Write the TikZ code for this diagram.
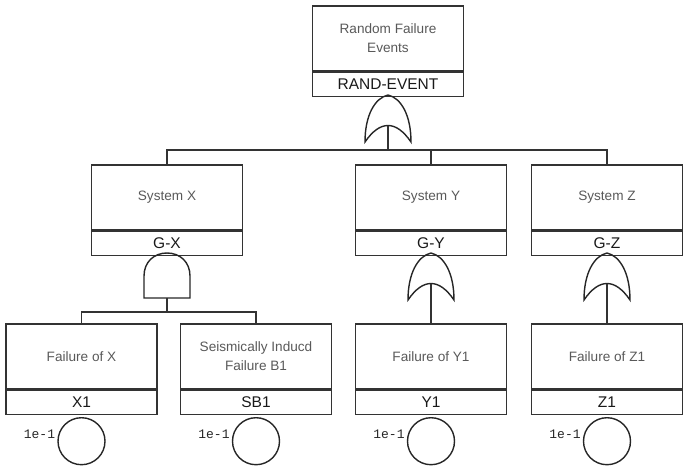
\documentclass[tikz,border=0pt]{standalone}
\usepackage{fontspec}
\setmainfont{Liberation Sans}
\newfontfamily\monof{Liberation Mono}
\usetikzlibrary{calc}
\begin{document}
\begin{tikzpicture}[x=1pt,y=-1pt,
  ln/.style={draw=black!80,line width=1.5pt},
  desc/.style={ln, minimum width=151pt, minimum height=65pt, inner sep=0pt, align=center,
    font=\fontsize{13.6}{18.5}\selectfont, text=black!65, anchor=north},
  ident/.style={ln, minimum width=151pt, minimum height=24pt, inner sep=0pt,
    font=\fontsize{15.5}{18}\selectfont, text=black!90, anchor=north},
  prob/.style={font=\monof\fontsize{13}{13}\selectfont, text=black!85, inner sep=0pt, anchor=east},
  basic/.style={draw=black!85, line width=1.4pt, circle, minimum size=47pt, inner sep=0pt, anchor=north},
  wire/.style={draw=black!80, line width=1.4pt},
  gate/.style={draw=black!85, line width=1.4pt},
  orgate/.pic={
    \draw[gate] (-23,0) .. controls (-23,-27) and (-13,-44) .. (0,-47)
      .. controls (13,-44) and (23,-27) .. (23,0)
      .. controls (8,-22) and (-8,-22) .. cycle;
    \coordinate (-in) at (0,-16.5);
  },
  andgate/.pic={
    \draw[gate] (-23,0) -- (-23,-22) .. controls (-23,-36) and (-13,-45) .. (0,-45)
      .. controls (13,-45) and (23,-36) .. (23,-22) -- (23,0) -- cycle;
    \coordinate (-out) at (0,0);
  }
]
\useasboundingbox (0,0) rectangle (683,469);

% top event
\node[desc] (dT) at (388,5) {Random Failure\\Events};
\node[ident] (iT) at (dT.south) {RAND-EVENT};
\pic (gT) at (388,142) {orgate};

% middle row
\node[desc] (dX) at (167,164) {System X};
\node[ident] (iX) at (dX.south) {G-X};
\node[desc] (dY) at (431,164) {System Y};
\node[ident] (iY) at (dY.south) {G-Y};
\node[desc] (dZ) at (607,164) {System Z};
\node[ident] (iZ) at (dZ.south) {G-Z};

\pic (gX) at (167,298) {andgate};
\pic (gY) at (431,300) {orgate};
\pic (gZ) at (607,300) {orgate};

% bottom row
\node[desc] (d1) at (81.5,323) {Failure of X};
\node[ident] (i1) at (d1.south) {X1};
\node[desc] (d2) at (256,323) {Seismically Inducd\\Failure B1};
\node[ident] (i2) at (d2.south) {SB1};
\node[desc] (d3) at (431,323) {Failure of Y1};
\node[ident] (i3) at (d3.south) {Y1};
\node[desc] (d4) at (607,323) {Failure of Z1};
\node[ident] (i4) at (d4.south) {Z1};

% basic event circles
\node[basic] (c1) at ($(i1.south)+(0,2)$) {};
\node[basic] (c2) at ($(i2.south)+(0,2)$) {};
\node[basic] (c3) at ($(i3.south)+(0,2)$) {};
\node[basic] (c4) at ($(i4.south)+(0,2)$) {};
\node[prob] (p1) at ($(c1.west)+(-2,-7)$) {1e-1};
\node[prob] (p2) at ($(c2.west)+(-2,-7)$) {1e-1};
\node[prob] (p3) at ($(c3.west)+(-2,-7)$) {1e-1};
\node[prob] (p4) at ($(c4.west)+(-2,-7)$) {1e-1};

% connectors
\coordinate (busT) at (388,150);
\draw[wire] (gT-in) -- (busT);
\draw[wire] (dX.north) -- (dX.north |- busT) -- (dZ.north |- busT) -- (dZ.north);
\draw[wire] (dY.north) -- (dY.north |- busT);

\coordinate (busX) at (167,312);
\draw[wire] (gX-out) -- (busX);
\draw[wire] (d1.north) -- (d1.north |- busX) -- (d2.north |- busX) -- (d2.north);

\draw[wire] (gY-in) -- (d3.north);
\draw[wire] (gZ-in) -- (d4.north);
\end{tikzpicture}
\end{document}
